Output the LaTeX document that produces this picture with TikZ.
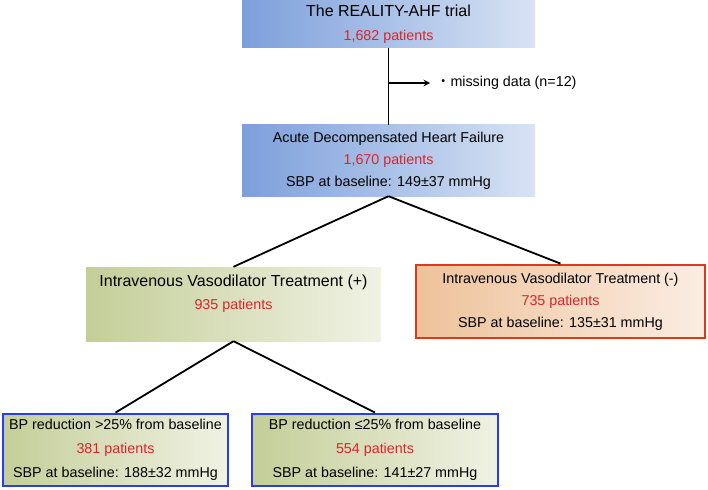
\documentclass[tikz,border=0pt]{standalone}
\usepackage{fontspec}
\setmainfont{Liberation Sans}
\newfontfamily\cjkfont{Noto Sans CJK JP}
\usetikzlibrary{arrows}

\definecolor{ptred}{HTML}{D8262A}
\definecolor{blueL}{HTML}{7C9FDB}
\definecolor{blueR}{HTML}{D8E3F4}
\definecolor{greenL}{HTML}{C4CE98}
\definecolor{greenR}{HTML}{F0F2E4}
\definecolor{orangeL}{HTML}{EEC29A}
\definecolor{orangeR}{HTML}{FBEDE2}
\definecolor{redline}{HTML}{E0381C}
\definecolor{blueline}{HTML}{2B3DE8}

\tikzset{
  box/.style={rectangle, inner sep=0pt, align=center, font=\fontsize{14.3}{22}\selectfont},
  bluebox/.style={box, left color=blueL, right color=blueR},
  greenbox/.style={box, left color=greenL, right color=greenR},
  orangebox/.style={box, left color=orangeL, right color=orangeR, draw=redline, line width=2.8pt},
  subbox/.style={greenbox, draw=blueline, line width=2.8pt, font=\fontsize{14.3}{24}\selectfont},
  link/.style={line width=1.8pt}
}
\newcommand{\npat}[1]{{\color{ptred}#1 patients}}

\begin{document}
\begin{tikzpicture}[x=1pt,y=-1pt]
  \useasboundingbox (0,0) rectangle (708,489);

  \node[bluebox, minimum width=293pt, minimum height=48pt, font=\fontsize{14.3}{24}\selectfont] (trial) at (388.5,24)
    {{\fontsize{16}{24}\selectfont The REALITY-AHF trial}\\ \npat{1,682}};
  \node[bluebox, minimum width=293pt, minimum height=71pt] (adhf) at (388.5,160.5)
    {Acute Decompensated Heart Failure\\ \npat{1,670}\\ SBP at baseline: 149±37 mmHg};
  \node[greenbox, minimum width=295pt, minimum height=74pt, font=\fontsize{16}{23}\selectfont] (ivplus) at (233.5,304)
    {Intravenous Vasodilator Treatment (+)\\ {\fontsize{14.3}{22}\selectfont\npat{935}}\\ ~};
  \node[orangebox, minimum width=289pt, minimum height=73pt] (ivminus) at (560.5,301.5)
    {Intravenous Vasodilator Treatment (-)\\ \npat{735}\\ SBP at baseline: 135±31 mmHg};
  \node[subbox, minimum width=225pt, minimum height=72pt] (bpgt) at (115.5,450)
    {BP reduction >25\% from baseline\\ \npat{381}\\ SBP at baseline: 188±32 mmHg};
  \node[subbox, minimum width=246pt, minimum height=72pt] (bple) at (375,450)
    {BP reduction ≤25\% from baseline\\ \npat{554}\\ SBP at baseline: 141±27 mmHg};

  \coordinate (split) at (388.5,83);
  \node[anchor=west, inner xsep=6pt, font=\fontsize{14.3}{22}\selectfont] (missing) at (430,83)
    {{\cjkfont ・}missing data (n=12)};

  \draw[link] (trial) -- (adhf);
  \draw[link,->,>=stealth] (split) -- (missing.west);
  \draw[link] (adhf.south) -- (ivplus.north);
  \draw[link] (adhf.south) -- (ivminus.north);
  \draw[link] (ivplus.south) -- (bpgt.north);
  \draw[link] (ivplus.south) -- (bple.north);
\end{tikzpicture}
\end{document}
